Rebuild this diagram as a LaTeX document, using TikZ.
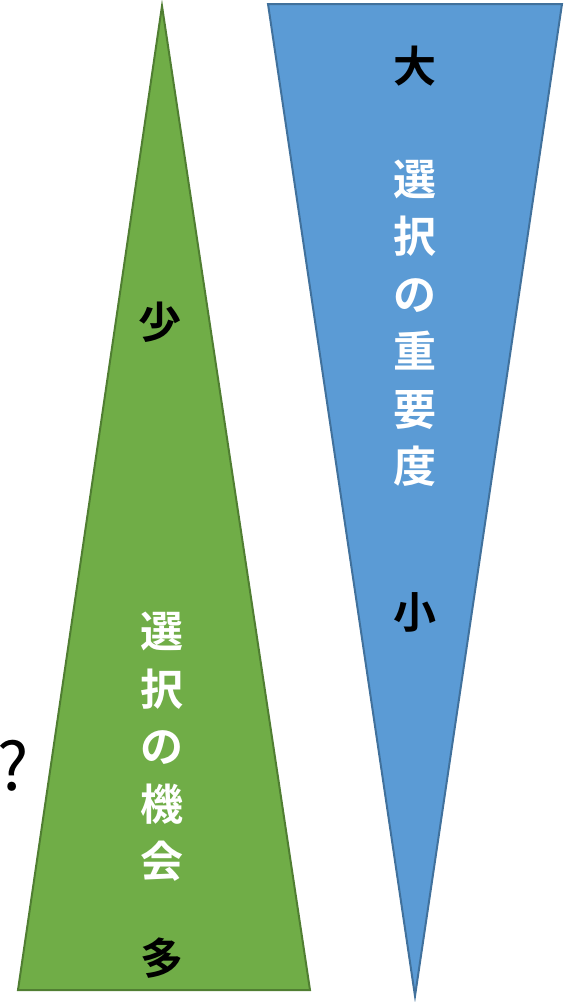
\documentclass[tikz,border=0pt]{standalone}
\usepackage{fontspec}
\newfontfamily\cjk{Noto Sans CJK JP}[BoldFont={Noto Sans CJK JP Bold}]
\definecolor{gfill}{HTML}{70AD47}
\definecolor{gline}{HTML}{507E32}
\definecolor{bfill}{HTML}{5B9BD5}
\definecolor{bline}{HTML}{41719C}
\begin{document}
\begin{tikzpicture}[x=1pt,y=-1pt,
  tri/.style={line width=2pt,line join=miter},
  lbl/.style={font=\cjk\bfseries\fontsize{43}{48}\selectfont,text=black,inner sep=0pt},
  vert/.style={font=\cjk\bfseries\fontsize{43}{57.5}\selectfont,text=white,align=center,inner sep=0pt}]
\useasboundingbox (0,0) rectangle (563,1002);
\coordinate (gtop) at (162,6);
\coordinate (gl) at (18,990);
\coordinate (gr) at (310,990);
\coordinate (btl) at (268,4);
\coordinate (btr) at (562,4);
\coordinate (bbot) at (415,996);
\draw[tri,fill=gfill,draw=gline] (gtop) -- (gr) -- (gl) -- cycle;
\draw[tri,fill=bfill,draw=bline] (btl) -- (btr) -- (bbot) -- cycle;
\node[lbl] (big) at (415,66) {大};
\node[vert] (bimp) at (415,323) {選\\択\\の\\重\\要\\度};
\node[lbl] (small) at (415,612) {小};
\node[lbl] (few) at (160,322) {少};
\node[vert] (gchance) at (162,747) {選\\択\\の\\機\\会};
\node[lbl] (many) at (162,958) {多};
\node[font=\cjk\fontsize{66}{70}\selectfont,inner sep=0pt,anchor=center] (q) at (13,766) {?};
\end{tikzpicture}
\end{document}
